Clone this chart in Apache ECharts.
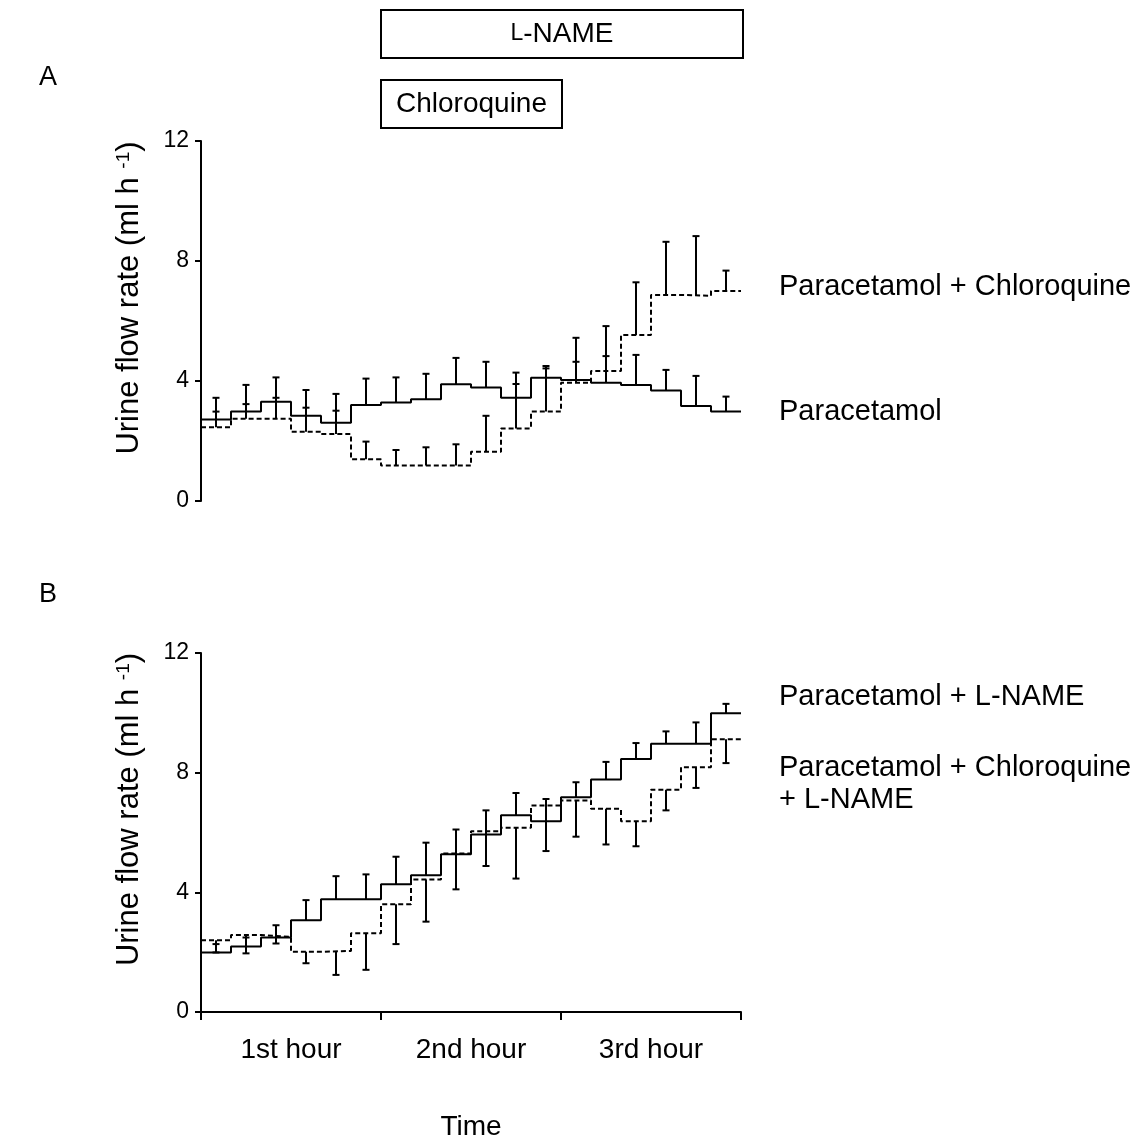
<!DOCTYPE html>
<html lang="en">
<head>
    <meta charset="UTF-8">
    <title>Urine flow rate</title>
    <script src="https://cdn.jsdelivr.net/npm/echarts@6/dist/echarts.min.js"></script>
    <style>
        html, body { margin: 0; padding: 0; background: #fff; }
        #main { width: 1140px; height: 1142px; }
    </style>
</head>
<body>
<div id="main"></div>

<script type="text/javascript">
    // time (min) at which each 10-min collection period starts, plus the end
    var stepTimes = [0, 10, 20, 30, 40, 50, 60, 70, 80, 90, 100, 110, 120, 130, 140, 150, 160, 170, 180];
    // mid point of each period (where the error bar sits)
    var midTimes = [5, 15, 25, 35, 45, 55, 65, 75, 85, 95, 105, 115, 125, 135, 145, 155, 165, 175];
    var hourLabels = ['1st hour', '2nd hour', '3rd hour'];
    var yTicks = [0, 4, 8, 12];

    // panel A
    var paracetamol = [2.72, 2.98, 3.31, 2.84, 2.61, 3.2, 3.28, 3.39, 3.89, 3.78, 3.44, 4.11, 4.03, 3.94, 3.87, 3.68, 3.17, 2.98];
    var paracetamolSem = [0.72, 0.89, 0.81, 0.86, 0.96, 0.88, 0.84, 0.85, 0.88, 0.86, 0.84, 0.31, 0.61, 0.89, 1.0, 0.69, 1.0, 0.5];
    var paraChloro = [2.46, 2.74, 2.74, 2.31, 2.23, 1.39, 1.18, 1.18, 1.18, 1.64, 2.42, 2.98, 3.94, 4.33, 5.53, 6.87, 6.84, 7.0];
    var paraChloroSem = [0.52, 0.49, 0.7, 0.8, 0.78, 0.59, 0.52, 0.61, 0.71, 1.2, 1.48, 1.52, 1.5, 1.5, 1.76, 1.77, 1.99, 0.68];

    // panel B
    var paraLname = [1.99, 2.19, 2.49, 3.07, 3.77, 3.77, 4.27, 4.57, 5.27, 5.93, 6.58, 6.38, 7.18, 7.77, 8.46, 8.97, 8.97, 9.99];
    var paraLnameSem = [0.28, 0.3, 0.41, 0.67, 0.77, 0.83, 0.92, 1.09, 0.83, 0.81, 0.74, 0.74, 0.5, 0.59, 0.53, 0.41, 0.71, 0.31];
    var paraChloroLname = [2.4, 2.57, 2.51, 2.01, 2.04, 2.63, 3.6, 4.43, 5.3, 6.04, 6.16, 6.9, 7.07, 6.79, 6.38, 7.43, 8.18, 9.12];
    var paraChloroLnameSem = [0.41, 0.61, 0.22, 0.38, 0.8, 1.22, 1.33, 1.41, 1.2, 1.16, 1.7, 1.52, 1.21, 1.19, 0.84, 0.69, 0.69, 0.8];

    // drug windows (min)
    var lnameWindow = [60, 180];
    var chloroquineWindow = [60, 120];

    var FONT = '"Liberation Sans", Arial, sans-serif';

    function stepData(vals) {
        var out = vals.map(function (v, i) { return [stepTimes[i], v]; });
        out.push([stepTimes[stepTimes.length - 1], vals[vals.length - 1]]);
        return out;
    }

    // sign: +1 bar goes up, -1 bar goes down
    function errData(vals, sem, sign) {
        return vals.map(function (v, i) { return [midTimes[i], v, v + sign * sem[i]]; });
    }

    function renderErr(params, api) {
        var p0 = api.coord([api.value(0), api.value(1)]);
        var p1 = api.coord([api.value(0), api.value(2)]);
        var hw = 3.5;
        var st = { stroke: '#000', lineWidth: 2 };
        return {
            type: 'group',
            children: [
                { type: 'line', shape: { x1: p0[0], y1: p0[1], x2: p1[0], y2: p1[1] }, style: st },
                { type: 'line', shape: { x1: p1[0] - hw, y1: p1[1], x2: p1[0] + hw, y2: p1[1] }, style: st }
            ]
        };
    }

    function yAxisFor(gridIndex) {
        return {
            type: 'value', gridIndex: gridIndex,
            min: yTicks[0], max: yTicks[yTicks.length - 1], interval: 4,
            name: 'Urine flow rate (ml h {sup|-1})',
            nameLocation: 'middle', nameGap: 56, nameRotate: 90,
            nameTextStyle: {
                color: '#000', fontSize: 31, fontFamily: FONT,
                padding: [0, 0, 0, 46],
                rich: { sup: { fontSize: 19, verticalAlign: 'top', color: '#000', fontFamily: FONT } }
            },
            axisLine: { show: true, lineStyle: { color: '#000', width: 2 } },
            axisTick: { show: true, length: 6, lineStyle: { color: '#000', width: 2 } },
            axisLabel: { color: '#000', fontSize: 23, fontFamily: FONT, margin: 12 },
            splitLine: { show: false }
        };
    }

    var chartDom = document.getElementById('main');
    var myChart = echarts.init(chartDom);

    var option = {
        backgroundColor: '#fff',
        animation: false,
        grid: [
            { left: 201, top: 141, width: 540, height: 360 },
            { left: 201, top: 653, width: 540, height: 360 }
        ],
        xAxis: [
            { type: 'value', gridIndex: 0, min: 0, max: 180, interval: 60, show: false },
            {
                type: 'value', gridIndex: 1, min: 0, max: 180, interval: 60,
                axisLine: { show: true, onZero: false, lineStyle: { color: '#000', width: 2 } },
                axisTick: { show: true, length: 8, lineStyle: { color: '#000', width: 2 } },
                axisLabel: { show: false },
                splitLine: { show: false }
            },
            {
                type: 'category', gridIndex: 1, position: 'bottom', data: hourLabels,
                boundaryGap: true,
                axisLine: { show: false }, axisTick: { show: false },
                axisLabel: { color: '#000', fontSize: 28, fontFamily: FONT, margin: 24 },
                name: 'Time', nameLocation: 'middle', nameGap: 101,
                nameTextStyle: { color: '#000', fontSize: 28, fontFamily: FONT }
            }
        ],
        yAxis: [yAxisFor(0), yAxisFor(1)],
        series: [
            {
                name: 'Paracetamol', type: 'line', xAxisIndex: 0, yAxisIndex: 0, step: 'end',
                data: stepData(paracetamol), symbol: 'none',
                lineStyle: { color: '#000', width: 2 }
            },
            {
                name: 'Paracetamol + Chloroquine', type: 'line', xAxisIndex: 0, yAxisIndex: 0, step: 'end',
                data: stepData(paraChloro), symbol: 'none',
                lineStyle: { color: '#000', width: 2, type: [5, 3] }
            },
            { type: 'custom', xAxisIndex: 0, yAxisIndex: 0, renderItem: renderErr, data: errData(paracetamol, paracetamolSem, 1) },
            { type: 'custom', xAxisIndex: 0, yAxisIndex: 0, renderItem: renderErr, data: errData(paraChloro, paraChloroSem, 1) },
            {
                name: 'Paracetamol + L-NAME', type: 'line', xAxisIndex: 1, yAxisIndex: 1, step: 'end',
                data: stepData(paraLname), symbol: 'none',
                lineStyle: { color: '#000', width: 2 }
            },
            {
                name: 'Paracetamol + Chloroquine + L-NAME', type: 'line', xAxisIndex: 1, yAxisIndex: 1, step: 'end',
                data: stepData(paraChloroLname), symbol: 'none',
                lineStyle: { color: '#000', width: 2, type: [5, 3] }
            },
            { type: 'custom', xAxisIndex: 1, yAxisIndex: 1, renderItem: renderErr, data: errData(paraLname, paraLnameSem, 1) },
            { type: 'custom', xAxisIndex: 1, yAxisIndex: 1, renderItem: renderErr, data: errData(paraChloroLname, paraChloroLnameSem, -1) }
        ]
    };

    myChart.setOption(option);

    // treatment boxes above panel A, placed from the time scale
    var xa = myChart.convertToPixel({ xAxisIndex: 0 }, lnameWindow[0]);
    var xb = myChart.convertToPixel({ xAxisIndex: 0 }, lnameWindow[1]) + 2;
    var xc0 = myChart.convertToPixel({ xAxisIndex: 0 }, chloroquineWindow[0]);
    var xc1 = myChart.convertToPixel({ xAxisIndex: 0 }, chloroquineWindow[1]) + 1;

    function label(text, x, y, size) {
        return {
            type: 'text', x: x, y: y,
            style: { text: text, fill: '#000', fontSize: size || 29, fontFamily: FONT, textVerticalAlign: 'middle' }
        };
    }

    myChart.setOption({
        graphic: [
            { type: 'rect', shape: { x: xa, y: 10, width: xb - xa, height: 48 }, style: { fill: '#fff', stroke: '#000', lineWidth: 2 } },
            {
                type: 'text', x: (xa + xb) / 2, y: 34,
                style: {
                    text: '{sc|L}-NAME', fill: '#000', fontSize: 28, fontFamily: FONT,
                    textAlign: 'center', textVerticalAlign: 'middle',
                    rich: { sc: { fontSize: 23, fontFamily: FONT, fill: '#000', verticalAlign: 'bottom', padding: [0, 0, 3, 0] } }
                }
            },
            { type: 'rect', shape: { x: xc0, y: 80, width: xc1 - xc0, height: 48 }, style: { fill: '#fff', stroke: '#000', lineWidth: 2 } },
            {
                type: 'text', x: (xc0 + xc1) / 2, y: 104,
                style: { text: 'Chloroquine', fill: '#000', fontSize: 28, fontFamily: FONT, textAlign: 'center', textVerticalAlign: 'middle' }
            },
            label('A', 39, 78, 27),
            label('B', 39, 595, 27),
            label('Paracetamol + Chloroquine', 779, 287),
            label('Paracetamol', 779, 412),
            label('Paracetamol + L-NAME', 779, 697),
            label('Paracetamol + Chloroquine', 779, 768),
            label('+ L-NAME', 779, 800)
        ]
    });
</script>
</body>
</html>
